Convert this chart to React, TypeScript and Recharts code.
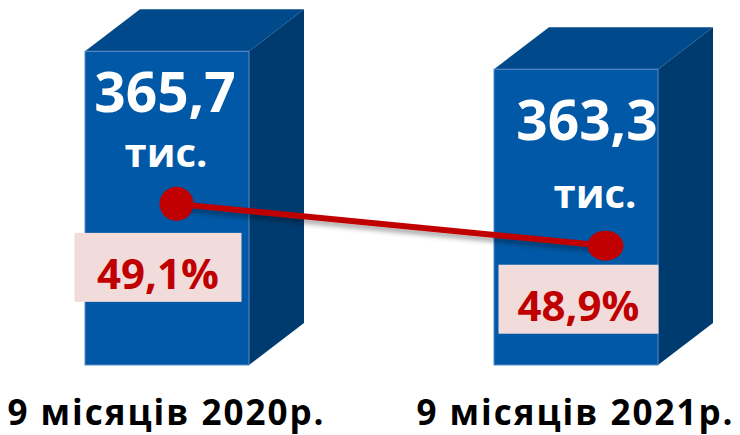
import { Bar, ComposedChart, LabelList, Line, XAxis, YAxis } from "recharts";

const periods = ["9 місяців 2020р.", "9 місяців 2021р."];
const workersK = [365.7, 363.3];
const workerLabels = ["365,7", "363,3"];
const sharePct = [49.1, 48.9];
const shareLabels = ["49,1%", "48,9%"];

const data = periods.map((period, i) => ({
  period,
  workers: workersK[i],
  share: sharePct[i],
}));

const FONT = "'Open Sans', sans-serif";
const DEPTH_X = 55;
const DEPTH_Y = 42;

// hand-placed text offsets, the slide did not line them up the same way on both bars
const valueNudge = [
  { dx: -2, num: 61, unitDx: -1, unit: 116 },
  { dx: 11, num: 71, unitDx: 19, unit: 139 },
];
const boxNudge = [
  { dx: -18.5, top: 29, w: 167 },
  { dx: -27, top: 19, w: 160 },
];
const dotSize = [
  [17, 17],
  [18, 15],
];

function Box3D(props: any) {
  const { x, y, width, height } = props;
  const r = x + width;
  const b = y + height;
  return (
    <g>
      <polygon
        points={`${x},${y} ${x + DEPTH_X},${y - DEPTH_Y} ${r + DEPTH_X},${y - DEPTH_Y} ${r},${y}`}
        fill="#00498B"
      />
      <polygon
        points={`${r},${y} ${r + DEPTH_X},${y - DEPTH_Y} ${r + DEPTH_X},${b - DEPTH_Y} ${r},${b}`}
        fill="#003B6F"
      />
      <rect x={x} y={y} width={width} height={height} fill="#0058A6" stroke="#5B8BC6" strokeWidth={1} />
    </g>
  );
}

function WorkersLabel(props: any) {
  const { x, y, width, index } = props;
  const n = valueNudge[index];
  const cx = x + width / 2;
  return (
    <g fontFamily={FONT} fontWeight={700} fill="#fff" textAnchor="middle">
      <text x={cx + n.dx} y={y + n.num} fontSize={55}>
        {workerLabels[index]}
      </text>
      <text x={cx + n.unitDx} y={y + n.unit} fontSize={40}>
        тис.
      </text>
    </g>
  );
}

function ShareLabel(props: any) {
  const { x, y, index } = props;
  const n = boxNudge[index];
  const cx = x + n.dx;
  const top = y + n.top;
  return (
    <g>
      <rect x={cx - n.w / 2} y={top} width={n.w} height={69} fill="#F2DCDB" />
      <text
        x={cx}
        y={top + 56}
        textAnchor="middle"
        fontFamily={FONT}
        fontWeight={700}
        fontSize={42}
        fill="#C00000"
      >
        {shareLabels[index]}
      </text>
    </g>
  );
}

function ShareDot(props: any) {
  const { cx, cy, index } = props;
  const [rx, ry] = dotSize[index];
  return <ellipse cx={cx} cy={cy} rx={rx} ry={ry} fill="#C00000" />;
}

export default function App() {
  return (
    <div style={{ position: "absolute", left: 0, top: 0 }}>
      <ComposedChart
        width={740}
        height={435}
        data={data}
        margin={{ top: 49, right: -40, bottom: 0, left: -38 }}
      >
        <defs>
          <filter id="lineShadow" x="-10%" y="-50%" width="120%" height="300%">
            <feDropShadow dx="1" dy="4" stdDeviation="2.5" floodColor="#000" floodOpacity="0.35" />
          </filter>
        </defs>
        <XAxis
          xAxisId="bars"
          dataKey="period"
          axisLine={false}
          tickLine={false}
          height={70}
          tickMargin={29}
          tick={{ fontSize: 35, fontWeight: 700, fill: "#000", fontFamily: FONT, letterSpacing: 2 }}
        />
        <XAxis xAxisId="line" dataKey="period" hide padding={{ left: 0, right: -40 }} />
        <YAxis yAxisId="workers" hide domain={[323.8, 366]} />
        <YAxis yAxisId="share" hide domain={[48.33, 49.84]} />
        <Bar
          xAxisId="bars"
          yAxisId="workers"
          dataKey="workers"
          barSize={164}
          shape={Box3D}
          isAnimationActive={false}
        >
          <LabelList dataKey="workers" content={WorkersLabel} />
        </Bar>
        <Line
          xAxisId="line"
          yAxisId="share"
          dataKey="share"
          stroke="#C00000"
          strokeWidth={6}
          filter="url(#lineShadow)"
          dot={ShareDot}
          activeDot={false}
          isAnimationActive={false}
        >
          <LabelList dataKey="share" content={ShareLabel} />
        </Line>
      </ComposedChart>
    </div>
  );
}
